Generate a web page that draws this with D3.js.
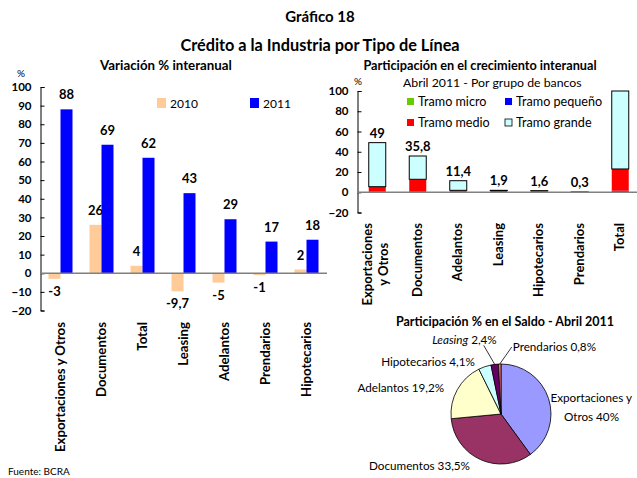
<!DOCTYPE html>
<html>
<head>
<meta charset="utf-8">
<script src="https://cdnjs.cloudflare.com/ajax/libs/d3/7.8.5/d3.min.js"></script>
<style>
  body { margin: 0; background: #fff; }
  svg { font-family: Lato, 'Open Sans', sans-serif; }
  .bold { font-weight: bold; }
</style>
</head>
<body>
<svg width="637" height="478"></svg>
<script>
// --- data: variación % interanual
const varCats = ['Exportaciones y Otros', 'Documentos', 'Total', 'Leasing', 'Adelantos', 'Prendarios', 'Hipotecarios'];
const var2010 = [-3, 26, 4, -9.7, -5, -1, 2];
const var2011 = [88, 69, 62, 43, 29, 17, 18];
const varTicks = [-20, -10, 0, 10, 20, 30, 40, 50, 60, 70, 80, 90, 100];

// --- data: participación en el crecimiento interanual (abril 2011)
const crecCats = ['Exportaciones|y Otros', 'Documentos', 'Adelantos', 'Leasing', 'Hipotecarios', 'Prendarios', 'Total'];
const tramoMicro = [0.2, 0.1, 0.1, 0.1, 0.4, 0.0, 0.5];
const tramoPequeno = [0.6, 0.3, 0.4, 0.1, 0.2, 0.0, 1.0];
const tramoMedio = [4.7, 12.4, 1.4, 1.5, 0.8, 0.2, 21.5];
const tramoGrande = [43.5, 23.0, 9.5, 0.2, 0.2, 0.1, 77.0];
const crecLabels = ['49', '35,8', '11,4', '1,9', '1,6', '0,3', null];
const crecTicks = [-20, 0, 20, 40, 60, 80, 100];

// --- data: participación % en el saldo
const saldoCats = ['Exportaciones y Otros', 'Documentos', 'Adelantos', 'Hipotecarios', 'Leasing', 'Prendarios'];
const saldoVals = [40, 33.5, 19.2, 4.1, 2.4, 0.8];

const fmt = v => String(v).replace('.', ',');
const svg = d3.select('svg');
svg.append('rect').attr('width', 637).attr('height', 478).attr('fill', '#fff');

// titles
svg.append('text').attr('class', 'bold').attr('x', 320).attr('y', 22)
    .attr('text-anchor', 'middle').style('font-size', '15px').text('Gráfico 18');
svg.append('text').attr('class', 'bold').attr('x', 320).attr('y', 51)
    .attr('text-anchor', 'middle').style('font-size', '16.3px').text('Crédito a la Industria por Tipo de Línea');
svg.append('text').attr('class', 'bold').attr('x', 166).attr('y', 70)
    .attr('text-anchor', 'middle').style('font-size', '13.3px').text('Variación % interanual');
svg.append('text').attr('class', 'bold').attr('x', 480).attr('y', 70)
    .attr('text-anchor', 'middle').style('font-size', '12.7px').text('Participación en el crecimiento interanual');
svg.append('text').attr('x', 8).attr('y', 475).style('font-size', '10px').text('Fuente: BCRA');

// ================= left chart
{
  const y = d3.scaleLinear().domain([-20, 100]).range([310.5, 87]);
  const x = d3.scaleBand().domain(varCats).range([40, 327]);
  const xs = d3.scaleBand().domain(['2010', '2011']).range([0, 24]);
  const g = svg.append('g');

  const axis = g.append('g').attr('transform', 'translate(40.5,0)')
      .call(d3.axisLeft(y).tickValues(varTicks).tickSize(-4).tickPadding(9));
  axis.select('.domain').attr('stroke', '#000');
  axis.selectAll('text').attr('class', 'bold').style('font-size', '11.5px')
      .style('font-family', 'Lato, sans-serif').attr('fill', '#000');
  g.append('text').attr('x', 17).attr('y', 77).style('font-size', '10px').text('%');

  const series = [{ k: '2010', v: var2010, c: '#FFCC99' }, { k: '2011', v: var2011, c: '#0000FF' }];
  series.forEach(s => {
    g.selectAll(null).data(s.v).enter().append('rect')
      .attr('x', (d, i) => x(varCats[i]) + x.bandwidth() / 2 - 12 + xs(s.k))
      .attr('width', xs.bandwidth())
      .attr('y', d => y(Math.max(0, d)))
      .attr('height', d => Math.abs(y(d) - y(0)))
      .attr('fill', s.c);
    g.selectAll(null).data(s.v).enter().append('text')
      .attr('class', 'bold').style('font-size', '13px').attr('text-anchor', 'middle')
      .attr('x', (d, i) => x(varCats[i]) + x.bandwidth() / 2 - 12 + xs(s.k) + xs.bandwidth() / 2)
      .attr('y', d => d >= 0 ? y(d) - 10 : y(d) + 17)
      .text(d => fmt(d));
  });

  g.append('line').attr('x1', 40).attr('x2', 327).attr('y1', y(0)).attr('y2', y(0))
    .attr('stroke', '#808080').attr('stroke-width', 1.5);

  // category labels
  g.selectAll(null).data(varCats).enter().append('text')
    .attr('class', 'bold').style('font-size', '13.2px').attr('text-anchor', 'end')
    .attr('transform', d => `translate(${x(d) + x.bandwidth() / 2 + 4},322) rotate(-90)`)
    .text(d => d);

  // legend
  const leg = [{ k: '2010', c: '#FFCC99', x: 157 }, { k: '2011', c: '#0000FF', x: 250 }];
  leg.forEach(l => {
    g.append('rect').attr('x', l.x).attr('y', 98).attr('width', 9).attr('height', 10).attr('fill', l.c);
    g.append('text').attr('x', l.x + 13).attr('y', 107.5).style('font-size', '12px').text(l.k);
  });
}

// ================= right chart
{
  const y = d3.scaleLinear().domain([-20, 100]).range([212.5, 91]);
  const x = d3.scaleBand().domain(crecCats).range([357, 640.5]);
  const g = svg.append('g');
  const bw = 17;

  const axis = g.append('g').attr('transform', 'translate(357.5,0)')
      .call(d3.axisLeft(y).tickValues(crecTicks).tickSize(-4).tickPadding(9));
  axis.select('.domain').attr('stroke', '#000');
  axis.selectAll('text').attr('class', 'bold').style('font-size', '11.5px')
      .style('font-family', 'Lato, sans-serif').attr('fill', '#000');
  g.append('text').attr('x', 354).attr('y', 85).style('font-size', '10px').text('%');

  const keys = ['micro', 'pequeno', 'medio', 'grande'];
  const colors = { micro: '#66CC00', pequeno: '#0000FF', medio: '#FF0000', grande: '#CCFFFF' };
  const rows = crecCats.map((c, i) => ({
    cat: c, micro: tramoMicro[i], pequeno: tramoPequeno[i], medio: tramoMedio[i], grande: tramoGrande[i]
  }));
  const stacked = d3.stack().keys(keys)(rows);

  g.selectAll(null).data(stacked).enter().append('g')
    .attr('fill', d => colors[d.key])
    .attr('stroke', d => d.key === 'grande' ? '#000' : 'none')
    .selectAll('rect').data(d => d).enter().append('rect')
    .attr('x', d => x(d.data.cat) + (x.bandwidth() - bw) / 2)
    .attr('width', bw)
    .attr('y', d => y(d[1]))
    .attr('height', d => Math.max(0, y(d[0]) - y(d[1])));

  g.append('line').attr('x1', 357).attr('x2', 637).attr('y1', y(0)).attr('y2', y(0))
    .attr('stroke', '#808080').attr('stroke-width', 1.5);

  g.selectAll(null).data(rows).enter().append('text')
    .attr('class', 'bold').style('font-size', '13px').attr('text-anchor', 'middle')
    .attr('x', d => x(d.cat) + x.bandwidth() / 2)
    .attr('y', (d, i) => y(keys.reduce((a, k) => a + d[k], 0)) - 5)
    .text((d, i) => crecLabels[i]);

  // category labels (rotated)
  crecCats.forEach(c => {
    const lines = c.split('|');
    const cx = x(c) + x.bandwidth() / 2;
    const t = g.append('text').attr('class', 'bold').style('font-size', '13px')
      .attr('text-anchor', 'end')
      .attr('transform', `translate(${cx + 4 - (lines.length - 1) * 9},223) rotate(-90)`)
      .text(lines[0]);
    if (lines.length > 1) {
      const len = t.node().getComputedTextLength();
      g.append('text').attr('class', 'bold').style('font-size', '13px')
        .attr('text-anchor', 'middle')
        .attr('transform', `translate(${cx + 4 + 7},${223 + len / 2}) rotate(-90)`)
        .text(lines[1]);
    }
  });

  // legend
  g.append('text').attr('x', 403).attr('y', 87).style('font-size', '12.3px').text('Abril 2011 - Por grupo de bancos');
  const leg = [
    { k: 'micro', t: 'Tramo micro', x: 407, y: 98 },
    { k: 'pequeno', t: 'Tramo pequeño', x: 505, y: 98 },
    { k: 'medio', t: 'Tramo medio', x: 407, y: 119 },
    { k: 'grande', t: 'Tramo grande', x: 505, y: 119 }
  ];
  leg.forEach(l => {
    g.append('rect').attr('x', l.x).attr('y', l.y).attr('width', 7).attr('height', 7)
      .attr('fill', colors[l.k]).attr('stroke', l.k === 'grande' ? '#000' : 'none').attr('stroke-width', 0.8);
    g.append('text').attr('x', l.x + 11).attr('y', l.y + 7.5).style('font-size', '12.6px').text(l.t);
  });
}

// ================= pie
{
  const cx = 501, cy = 414, r = 50;
  const g = svg.append('g').attr('transform', `translate(${cx},${cy})`);
  const colors = ['#9999FF', '#993366', '#FFFFCC', '#CCFFFF', '#660066', '#FF8080'];
  const pie = d3.pie().sort(null)(saldoVals);
  const arc = d3.arc().innerRadius(0).outerRadius(r);

  g.selectAll('path').data(pie).enter().append('path')
    .attr('d', arc).attr('fill', (d, i) => colors[i])
    .attr('stroke', '#000').attr('stroke-width', 0.8);

  svg.append('text').attr('class', 'bold').attr('x', 505).attr('y', 326)
    .attr('text-anchor', 'middle').style('font-size', '12.5px').text('Participación % en el Saldo - Abril 2011');

  const mid = d => (d.startAngle + d.endAngle) / 2;
  const pt = (d, rr) => [Math.sin(mid(d)) * rr, -Math.cos(mid(d)) * rr];
  const lab = g.append('g').style('font-size', '11.7px');

  pie.forEach((d, i) => {
    const name = saldoCats[i], val = fmt(saldoVals[i]) + '%';
    if (i === 0) {
      const p = pt(d, 52);
      lab.append('text').attr('x', p[0]).attr('y', p[1] + 4).text('Exportaciones y');
      lab.append('text').attr('x', p[0] + 41).attr('y', p[1] + 23).attr('text-anchor', 'middle').text('Otros ' + val);
    } else if (d.value >= 3) {
      const p = pt(d, 56);
      lab.append('text').attr('x', p[0] - 8).attr('y', p[1] + 5)
        .attr('text-anchor', 'end').text(name + ' ' + val);
    } else {
      const p0 = pt(d, r);
      const left = name === 'Leasing';
      if (left) {
        lab.append('line').attr('x1', p0[0]).attr('y1', p0[1])
          .attr('x2', p0[0] - 11).attr('y2', p0[1] - 19).attr('stroke', '#000').attr('stroke-width', 0.8);
        const t = lab.append('text').attr('x', p0[0] + 2).attr('y', p0[1] - 20.5).attr('text-anchor', 'end');
        t.append('tspan').style('font-style', 'italic').text(name);
        t.append('tspan').text(' ' + val);
      } else {
        lab.append('line').attr('x1', p0[0]).attr('y1', p0[1])
          .attr('x2', p0[0] + 12).attr('y2', p0[1] - 17).attr('stroke', '#000').attr('stroke-width', 0.8);
        lab.append('text').attr('x', p0[0] + 13).attr('y', p0[1] - 13).text(name + ' ' + val);
      }
    }
  });
}
</script>
</body>
</html>
